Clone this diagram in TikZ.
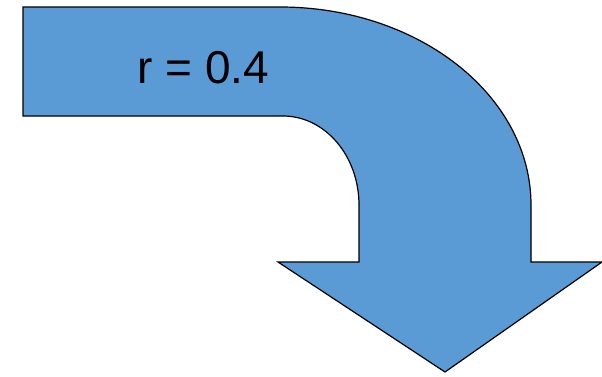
\documentclass[tikz,border=0pt]{standalone}
\usepackage{xcolor}
\usepackage{fontspec}
\usepackage{tikz}
\setmainfont{Liberation Sans}
\definecolor{arrowblue}{HTML}{5B9BD5}

\begin{document}
\begin{tikzpicture}[x=1pt,y=1pt]
\tikzset{bentarrow/.style={draw=black,fill=arrowblue,line width=1.2pt,line join=miter}}
\useasboundingbox (0,0) rectangle (602,376);
\draw[bentarrow] (23,369) -- (280,369)
  arc[start angle=90,end angle=0,x radius=251pt,y radius=198pt]
  -- (531,114) -- (602,114) -- (445,4) -- (278,114) -- (359,114) -- (359,171)
  arc[start angle=0,end angle=90,x radius=76pt,y radius=89pt]
  -- (23,260) -- cycle;
\node (label) at (203.5,308.5) {\fontsize{46}{50}\selectfont r = 0.4};
\end{tikzpicture}
\end{document}
